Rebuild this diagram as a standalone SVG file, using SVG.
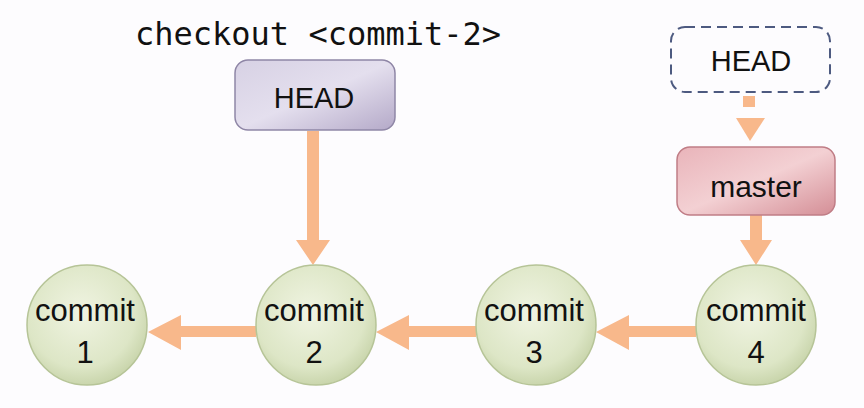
<svg xmlns="http://www.w3.org/2000/svg" width="864" height="408" viewBox="0 0 864 408">
<defs>
<radialGradient id="gc" cx="0.45" cy="0.4" r="0.65">
<stop offset="0" stop-color="#f0f4e2"/>
<stop offset="0.7" stop-color="#dde6c6"/>
<stop offset="1" stop-color="#c3d0a4"/>
</radialGradient>
<linearGradient id="gp" x1="0" y1="0" x2="1" y2="1">
<stop offset="0" stop-color="#d7d1e4"/>
<stop offset="0.5" stop-color="#e4dfee"/>
<stop offset="1" stop-color="#b4a9c8"/>
</linearGradient>
<linearGradient id="gm" x1="0" y1="0" x2="1" y2="1">
<stop offset="0" stop-color="#e9b4ba"/>
<stop offset="0.5" stop-color="#f3d0d3"/>
<stop offset="1" stop-color="#d48e96"/>
</linearGradient>
</defs>
<style>
.c{fill:url(#gc);stroke:#b6c497;stroke-width:1.5}
.t{font-family:"Liberation Sans",Arial,sans-serif;fill:#111;text-anchor:middle}
.a{fill:#f8b88b}
</style>
<rect width="864" height="408" fill="#fdfcfe"/>
<text x="135" y="45" style="font-family:'DejaVu Sans Mono',monospace;font-size:32px;fill:#111">checkout &lt;commit-2&gt;</text>
<g id="connectors">
<polygon class="a" points="256,326 181,326 181,315 148,332 181,350 181,337 256,337"/>
<polygon class="a" points="476,326 409,326 409,315 376,332 409,350 409,337 476,337"/>
<polygon class="a" points="696,326 629,326 629,315 596,332 629,350 629,337 696,337"/>
<polygon class="a" points="307,131 319,131 319,240 330,240 313,265 296,240 307,240"/>
<rect class="a" x="743" y="96" width="12" height="11"/>
<polygon class="a" points="736,118 765,118 750,141"/>
<polygon class="a" points="750,215 762,215 762,240 772,240 756,265 740,240 750,240"/>
</g>
<g id="head-detached">
<rect x="235" y="60" width="160" height="70" rx="13" fill="url(#gp)" stroke="#8f86a6" stroke-width="1.5"/>
<text class="t" x="314" y="108" style="font-size:29px">HEAD</text>
</g>
<g id="head-old">
<rect x="671" y="27" width="159" height="65" rx="14" fill="none" stroke="#4d5a80" stroke-width="2" stroke-dasharray="10,6"/>
<text class="t" x="751" y="71" style="font-size:29px">HEAD</text>
</g>
<g id="master">
<rect x="677" y="147" width="158" height="68" rx="13" fill="url(#gm)" stroke="#c07d86" stroke-width="1.5"/>
<text class="t" x="756" y="197" style="font-size:30px">master</text>
</g>
<g id="commit1">
<circle class="c" cx="87" cy="325" r="60"/>
<text class="t" x="85" y="321" style="font-size:31px">commit</text>
<text class="t" x="85" y="363" style="font-size:31px">1</text>
</g>
<g id="commit2">
<circle class="c" cx="316" cy="325" r="60"/>
<text class="t" x="314" y="321" style="font-size:31px">commit</text>
<text class="t" x="314" y="363" style="font-size:31px">2</text>
</g>
<g id="commit3">
<circle class="c" cx="536" cy="325" r="60"/>
<text class="t" x="534" y="321" style="font-size:31px">commit</text>
<text class="t" x="534" y="363" style="font-size:31px">3</text>
</g>
<g id="commit4">
<circle class="c" cx="756" cy="325" r="60"/>
<text class="t" x="756" y="321" style="font-size:31px">commit</text>
<text class="t" x="756" y="363" style="font-size:31px">4</text>
</g>
</svg>
